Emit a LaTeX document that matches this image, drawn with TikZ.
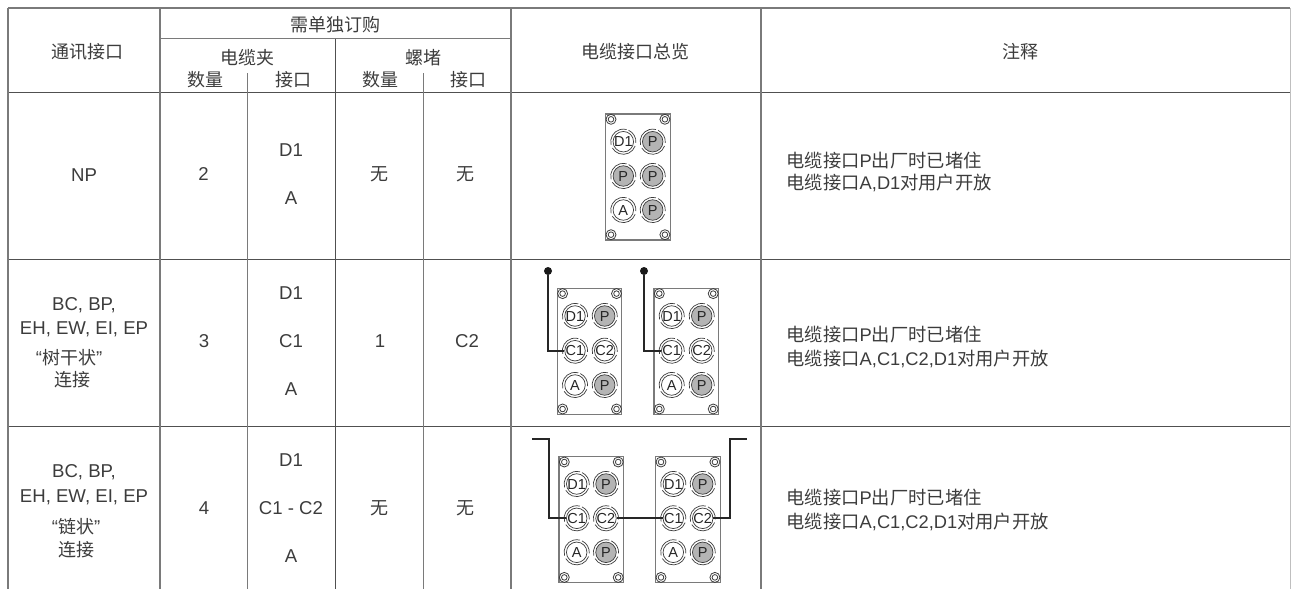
\documentclass[tikz,border=0pt]{standalone}
\usepackage{fontspec}
\setmainfont{Liberation Sans}
\newfontfamily\cjk{Noto Sans CJK SC}
\definecolor{ink}{HTML}{3C3C3C}
\definecolor{rule}{HTML}{7A7A7A}
\definecolor{plug}{HTML}{B4B4B4}
\newcommand{\Port}[5]{%
  \node[portnode,fill=#5] (#1) at (#2,#3) {\smash{\raisebox{-5pt}{\makebox[0pt]{#4}}}};
  \draw[ringline] (#2,#3) ++(20:12.6) arc[start angle=20,end angle=150,radius=12.6];
  \draw[ringline] (#2,#3) ++(165:12.6) arc[start angle=165,end angle=285,radius=12.6];
  \draw[ringline] (#2,#3) ++(295:12.6) arc[start angle=295,end angle=365,radius=12.6];
}
\newcommand{\Screw}[2]{%
  \draw[screwline] (#1,#2) circle[radius=5];
  \draw[screwline] (#1,#2) circle[radius=2.8];
}
\newcommand{\Plate}[4]{%
  \node[plate,minimum width=64.5pt,minimum height=126pt] (#1) at (#2+32.25,#3+63) {};
  \Screw{#2+5.3}{#3+5.3}\Screw{#2+59.2}{#3+5.3}\Screw{#2+5.3}{#3+120.7}\Screw{#2+59.2}{#3+120.7}
}
\tikzset{
  heavyrule/.style={draw=rule,line width=1.3pt},
  midrule/.style={draw=rule,line width=1.1pt},
  darkrule/.style={draw=ink!90,line width=0.9pt},
  lightrule/.style={draw=black!25,line width=0.9pt},
  txt/.style={inner sep=0,outer sep=0,text=ink,font=\fontsize{18.6}{22}\selectfont,align=center},
  cjktxt/.style={txt,font=\cjk\fontsize{18}{22}\selectfont},
  note/.style={inner sep=0,outer sep=0,text=ink,anchor=west,align=left,font=\fontsize{18.3}{23.5}\selectfont},
  noteone/.style={note,font=\fontsize{18.3}{21.8}\selectfont},
  portnode/.style={circle,draw=ink,line width=0.7pt,minimum size=20.5pt,inner sep=0,text=black!85,font=\fontsize{14.5}{15}\selectfont},
  ringline/.style={draw=ink,line width=0.7pt},
  screwline/.style={draw=ink,line width=0.8pt},
  plate/.style={rectangle,draw=rule,line width=1.2pt,inner sep=0,fill=white},
  wire/.style={draw=black!85,line width=1.7pt,line join=miter},
  wiredot/.style={circle,fill=black!90,inner sep=0,minimum size=8pt},
}
\begin{document}
\begin{tikzpicture}[x=1pt,y=-1pt]
\useasboundingbox (0,0) rectangle (1292,589);
% grid
\draw[heavyrule] (8,8) -- (1290,8);
\draw[heavyrule] (160,38.5) -- (511,38.5);
\draw[darkrule] (8,92) -- (1290,92);
\draw[darkrule] (8,259) -- (1290,259);
\draw[darkrule] (8,426) -- (1290,426);
\draw[heavyrule] (8,8) -- (8,589);
\draw[heavyrule] (160,8) -- (160,589);
\draw[darkrule] (335.5,38.5) -- (335.5,589);
\draw[heavyrule] (511,8) -- (511,589);
\draw[heavyrule] (761,8) -- (761,589);
\draw[lightrule] (1290.5,8) -- (1290.5,589);
\draw[midrule] (247.5,73) -- (247.5,589);
\draw[midrule] (423.5,73) -- (423.5,589);
% header
\node[cjktxt] (h1) at (87,52) {通讯接口};
\node[cjktxt] (h2) at (335,25) {需单独订购};
\node[cjktxt] (h3) at (247,57.5) {电缆夹};
\node[cjktxt] (h4) at (423,57.5) {螺堵};
\node[cjktxt] (h5) at (205,79.5) {数量};
\node[cjktxt] (h6) at (293,79.5) {接口};
\node[cjktxt] (h7) at (380.5,79.5) {数量};
\node[cjktxt] (h8) at (468,79.5) {接口};
\node[cjktxt] (h9) at (635,52) {电缆接口总览};
\node[cjktxt] (h10) at (1020,52) {注释};
% row 1
\node[txt] (a1) at (84,175) {NP};
\node[txt] (a2) at (203.5,174.5) {2};
\node[txt] (a3) at (291,150) {D1};
\node[txt] (a4) at (291,198) {A};
\node[cjktxt] (a5) at (379,174) {无};
\node[cjktxt] (a6) at (465.5,174) {无};
\node[noteone] (a7) at (786.5,172) {{\cjk 电缆接口}P{\cjk 出厂时已堵住}\\{\cjk 电缆接口}A,D1{\cjk 对用户开放}};
% row 2
\node[txt] (b1a) at (84,305) {BC, BP,};
\node[txt] (b1b) at (84,329.5) {EH, EW, EI, EP};
\node[txt] (b1c) at (69,358) {“{\cjk\fontsize{18}{22}\selectfont 树干状}”};
\node[cjktxt] (b1d) at (72,380) {连接};
\node[txt] (b2) at (204,341) {3};
\node[txt] (b3) at (291,293) {D1};
\node[txt] (b4) at (291,341) {C1};
\node[txt] (b5) at (291,389) {A};
\node[txt] (b6) at (380,341) {1};
\node[txt] (b7) at (467,341) {C2};
\node[note] (b8) at (786.5,347) {{\cjk 电缆接口}P{\cjk 出厂时已堵住}\\{\cjk 电缆接口}A,C1,C2,D1{\cjk 对用户开放}};
% row 3
\node[txt] (c1a) at (84,472) {BC, BP,};
\node[txt] (c1b) at (84,497) {EH, EW, EI, EP};
\node[txt] (c1c) at (76,527) {“{\cjk\fontsize{18}{22}\selectfont 链状}”};
\node[cjktxt] (c1d) at (76,549.5) {连接};
\node[txt] (c2) at (204,508) {4};
\node[txt] (c3) at (291,460) {D1};
\node[txt] (c4) at (291,508) {C1 - C2};
\node[txt] (c5) at (291,556) {A};
\node[cjktxt] (c6) at (379,508) {无};
\node[cjktxt] (c7) at (465.5,508) {无};
\node[note] (c8) at (786.5,510) {{\cjk 电缆接口}P{\cjk 出厂时已堵住}\\{\cjk 电缆接口}A,C1,C2,D1{\cjk 对用户开放}};
% plate 1
\Plate{p1}{605.7}{114}{}
\Port{p1d}{623.3}{141.7}{D1}{white}\Port{p1p}{652.7}{141.7}{P}{plug}
\Port{p1q}{623.3}{176}{P}{plug}\Port{p1r}{652.7}{176}{P}{plug}
\Port{p1a}{623.3}{210}{A}{white}\Port{p1s}{652.7}{210}{P}{plug}
% plates 2, 3
\Plate{p2}{557.3}{288.3}{}
\Port{p2d}{575}{316}{D1}{white}\Port{p2p}{604.7}{316}{P}{plug}
\Port{p2c}{575}{350.7}{C1}{white}\Port{p2e}{604.7}{350.7}{C2}{white}
\Port{p2a}{575}{385}{A}{white}\Port{p2q}{604.7}{385}{P}{plug}
\Plate{p3}{654}{288.3}{}
\Port{p3d}{671.7}{316}{D1}{white}\Port{p3p}{701.7}{316}{P}{plug}
\Port{p3c}{671.7}{350.7}{C1}{white}\Port{p3e}{701.7}{350.7}{C2}{white}
\Port{p3a}{671.7}{385}{A}{white}\Port{p3q}{701.7}{385}{P}{plug}
\node[wiredot] (d2) at (548,271) {};
\node[wiredot] (d3) at (644,271) {};
\draw[wire] (d2) |- (p2c);
\draw[wire] (d3) |- (p3c);
% plates 4, 5
\Plate{p4}{559}{456.7}{}
\Port{p4d}{576.7}{484}{D1}{white}\Port{p4p}{606}{484}{P}{plug}
\Port{p4c}{576.7}{518.3}{C1}{white}\Port{p4e}{606}{518.3}{C2}{white}
\Port{p4a}{576.7}{552.3}{A}{white}\Port{p4q}{606}{552.3}{P}{plug}
\Plate{p5}{655.7}{456.7}{}
\Port{p5d}{673.3}{484}{D1}{white}\Port{p5p}{702.7}{484}{P}{plug}
\Port{p5c}{673.3}{518.3}{C1}{white}\Port{p5e}{702.7}{518.3}{C2}{white}
\Port{p5a}{673.3}{552.3}{A}{white}\Port{p5q}{702.7}{552.3}{P}{plug}
\coordinate (w1) at (532.3,439.3);
\coordinate (w2) at (549.3,439.3);
\coordinate (w3) at (730,439.3);
\coordinate (w4) at (746.7,439.3);
\draw[wire] (w1) -- (w2) |- (p4c);
\draw[wire] (p4e) -- (p5c);
\draw[wire] (p5e) -| (w3) -- (w4);
\end{tikzpicture}
\end{document}
